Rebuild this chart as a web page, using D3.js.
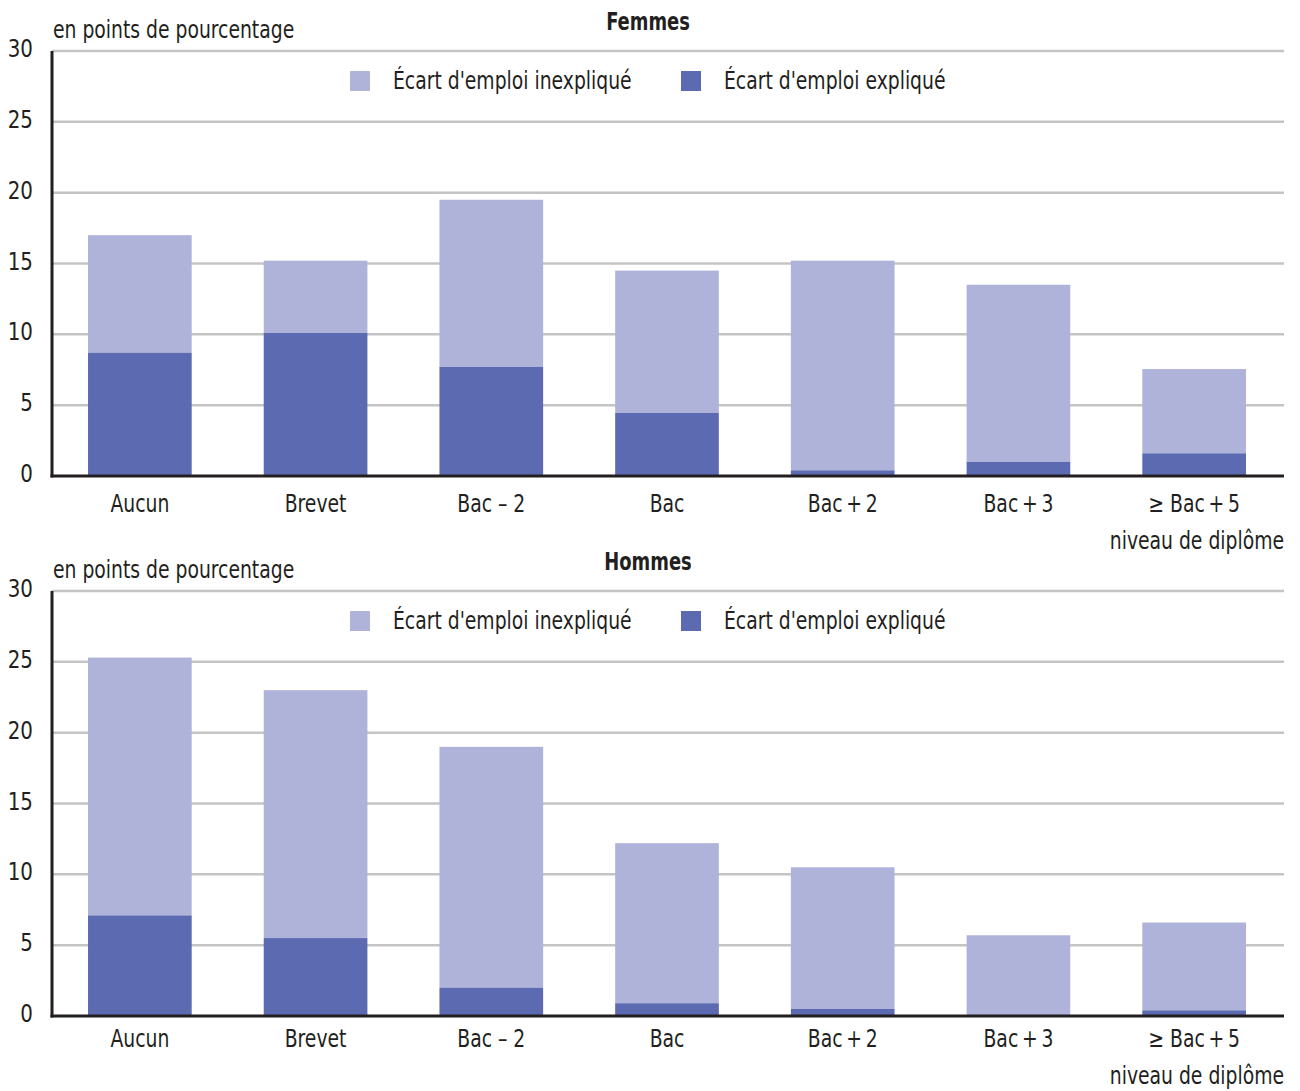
<!DOCTYPE html>
<meta charset="utf-8">
<head>
    <style type="text/css">
        body { margin: 0; background: #fff; }
        text { font-family: "Liberation Sans Narrow", "DejaVu Sans Condensed", sans-serif; fill: #231f20; font-size: 24px; }
        .grid line { stroke: #c4c4c4; stroke-width: 2.5; }
        .title { font-weight: bold; }
    </style>
</head>
<body>
    <script src="https://d3js.org/d3.v7.min.js"></script>
    <script>
        // data
        var categories = ["Aucun", "Brevet", "Bac \u2013 2", "Bac", "Bac\u2009+\u20092", "Bac\u2009+\u20093", "\u2265 Bac\u2009+\u20095"];
        var femmesExplique = [8.7, 10.1, 7.7, 4.45, 0.4, 1.0, 1.6];
        var femmesTotal = [17.0, 15.2, 19.5, 14.5, 15.2, 13.5, 7.55];
        var hommesExplique = [7.1, 5.5, 2.0, 0.9, 0.5, 0, 0.4];
        var hommesTotal = [25.3, 23.0, 19.0, 12.2, 10.5, 5.7, 6.6];
        var yTicks = [0, 5, 10, 15, 20, 25, 30];
        var legendLabels = ["\u00c9cart d'emploi inexpliqu\u00e9", "\u00c9cart d'emploi expliqu\u00e9"];
        var colors = ["#afb3da", "#5c6ab1"];

        var width = 1300, height = 1091;
        var svg = d3.select("body").append("svg")
            .attr("width", width)
            .attr("height", height);

        var xScale = d3.scaleBand()
            .domain(categories)
            .range([52, 1282])
            .paddingInner(0.41)
            .paddingOuter(0.205);

        // condensed look: squeeze text horizontally around its anchor point
        function label(g, x, y, str, anchor, sx) {
            return g.append("text")
                .attr("transform", "translate(" + x + "," + y + ") scale(" + (sx || 0.87) + ",1)")
                .attr("text-anchor", anchor || "start")
                .text(str);
        }

        function panel(top, title, explique, total, xlabOffset) {
            var y0 = top + 476, y30 = top + 51;
            var yScale = d3.scaleLinear().domain([0, 30]).range([y0, y30]);
            var g = svg.append("g");

            // grid lines
            g.append("g").attr("class", "grid")
                .selectAll("line").data(yTicks.filter(function (d) { return d > 0; }))
                .enter().append("line")
                .attr("x1", 52).attr("x2", 1284)
                .attr("y1", function (d) { return yScale(d); })
                .attr("y2", function (d) { return yScale(d); });

            // y tick labels
            yTicks.forEach(function (d) {
                label(g, 33, yScale(d) + 6, d, "end", 0.92);
            });

            var rows = categories.map(function (c, i) {
                return { cat: c, e: explique[i], t: total[i] };
            });

            // unexplained part (stacked on top)
            g.selectAll(".top").data(rows).enter().append("rect")
                .attr("x", function (d) { return xScale(d.cat); })
                .attr("width", xScale.bandwidth())
                .attr("y", function (d) { return yScale(d.t); })
                .attr("height", function (d) { return yScale(d.e) - yScale(d.t); })
                .attr("fill", colors[0]);

            // explained part
            g.selectAll(".bot").data(rows).enter().append("rect")
                .attr("x", function (d) { return xScale(d.cat); })
                .attr("width", xScale.bandwidth())
                .attr("y", function (d) { return yScale(d.e); })
                .attr("height", function (d) { return yScale(0) - yScale(d.e); })
                .attr("fill", colors[1]);

            // axes lines
            g.append("line").attr("x1", 52).attr("x2", 52)
                .attr("y1", y30).attr("y2", y0 + 1.5)
                .attr("stroke", "#231f20").attr("stroke-width", 3);
            g.append("line").attr("x1", 50.5).attr("x2", 1284)
                .attr("y1", y0).attr("y2", y0)
                .attr("stroke", "#231f20").attr("stroke-width", 3);

            // x labels
            categories.forEach(function (c) {
                label(g, xScale(c) + xScale.bandwidth() / 2, y0 + xlabOffset, c, "middle");
            });

            label(g, 1284, y0 + xlabOffset + 37, "niveau de dipl\u00f4me", "end");
            label(g, 53, top + 38, "en points de pourcentage");
            label(g, 648, top + 30, title, "middle", 0.83).attr("class", "title");

            // legend
            var lx = [350, 681];
            legendLabels.forEach(function (l, i) {
                g.append("rect").attr("x", lx[i]).attr("y", top + 71)
                    .attr("width", 20).attr("height", 20)
                    .attr("fill", colors[i]);
                label(g, lx[i] + 43, top + 89, l);
            });
        }

        panel(0, "Femmes", femmesExplique, femmesTotal, 36);
        panel(540, "Hommes", hommesExplique, hommesTotal, 31);
    </script>
</body>
